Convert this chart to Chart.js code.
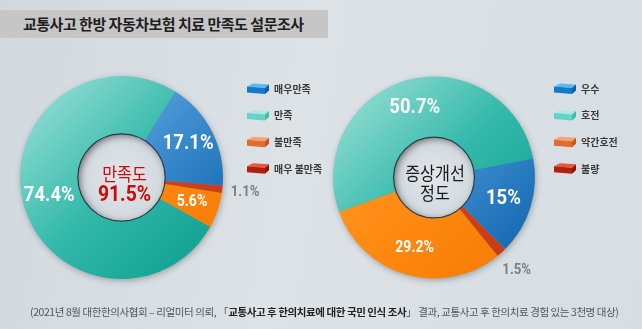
<!DOCTYPE html>
<html><head><meta charset="utf-8">
<script src="https://cdn.jsdelivr.net/npm/chart.js@4.4.1/dist/chart.umd.min.js"></script>
<style>
html,body{margin:0;padding:0;}
body{width:642px;height:329px;overflow:hidden;position:relative;background:linear-gradient(100deg,#d1d9df 0%,#dce2e6 45%,#d7dee3 100%);font-family:'Noto Sans CJK KR',sans-serif;}
#title{position:absolute;left:0;top:10px;width:328px;height:28px;background:#c6c6c6;}
#title span{position:absolute;left:23px;top:3px;font-size:15px;font-weight:700;color:#1e1e1e;letter-spacing:-0.5px;line-height:21px;white-space:nowrap}
canvas{position:absolute;left:0;top:0;}
#foot{position:absolute;left:30px;top:305px;font-size:10.5px;line-height:14px;color:#555;white-space:nowrap;letter-spacing:-0.42px}
#foot b{color:#222}
</style></head>
<body>
<div id="title"><span>교통사고 한방 자동차보험 치료 만족도 설문조사</span></div>
<canvas id="c1" width="642" height="329" style="width:642px;height:329px"></canvas>
<canvas id="c2" width="642" height="329" style="width:642px;height:329px"></canvas>
<div id="foot">(2021년 8월 대한한의사협회 – 리얼미터 의뢰, 「<b>교통사고 후 한의치료에 대한 국민 인식 조사</b>」 결과, 교통사고 후 한의치료 경험 있는 3천명 대상)</div>
<script>
// ---- data ----
const satisfactionCategories = ['매우만족', '만족', '불만족', '매우 불만족'];
const satisfactionValues = [17.1, 74.4, 5.6, 1.1];
const satisfactionLabels = ['17.1%', '74.4%', '5.6%', '1.1%'];
const satisfactionSliceOrder = [0, 3, 2, 1];
const satisfactionCenter = ['만족도', '91.5%'];

const improvementCategories = ['우수', '호전', '약간호전', '불량'];
const improvementValues = [15, 50.7, 29.2, 1.5];
const improvementLabels = ['15%', '50.7%', '29.2%', '1.5%'];
const improvementSliceOrder = [1, 0, 3, 2];
const improvementCenter = ['증상개선', '정도'];

// ---- styles ----
const SLICE_COLORS = [
  ['#86bbe3', '#3f8fd0', '#0f63ad'], // blue
  ['#8fdbd1', '#33b9aa', '#0c9f8f'], // teal
  ['#ff9e2c', '#ff8a12', '#f57b05'], // orange
  ['#e0502a', '#d8431b', '#c9380f']  // red
];
const LEGEND_COLORS = [
  ['#5cb8ee', '#1479c9', '#0d5ea3'],
  ['#a8ebe4', '#66d2c8', '#49b8ad'],
  ['#f7a276', '#e56a2e', '#c9561f'],
  ['#ea5636', '#b0200c', '#8d1505']
];
const LABEL_SIZE = [21, 21, 16, 15];
const LABEL_OUTSIDE = [false, false, false, true];

function sliceColor(order) {
  return (c) => {
    const ci = order[c.dataIndex];
    const cols = SLICE_COLORS[ci];
    const ca = c.chart.chartArea;
    if (!ca) return cols[1];
    const g = c.chart.ctx.createLinearGradient(ca.left, ca.top, ca.right, ca.bottom);
    g.addColorStop(0.1, cols[0]);
    g.addColorStop(0.5, cols[1]);
    g.addColorStop(0.95, cols[2]);
    return g;
  };
}

function drawBox(ctx, x, y, cols) {
  const w = 22;
  ctx.beginPath();
  ctx.moveTo(x, y + 3); ctx.lineTo(x + 6, y); ctx.lineTo(x + w, y + 1); ctx.lineTo(x + w - 4, y + 4.5); ctx.closePath();
  ctx.fillStyle = cols[0]; ctx.fill();
  ctx.beginPath();
  ctx.moveTo(x, y + 3); ctx.lineTo(x + w - 4, y + 4.5); ctx.lineTo(x + w - 4, y + 10.5); ctx.lineTo(x, y + 9); ctx.closePath();
  ctx.fillStyle = cols[1]; ctx.fill();
  ctx.beginPath();
  ctx.moveTo(x + w - 4, y + 4.5); ctx.lineTo(x + w, y + 1); ctx.lineTo(x + w, y + 7); ctx.lineTo(x + w - 4, y + 10.5); ctx.closePath();
  ctx.fillStyle = cols[2]; ctx.fill();
}

const ringPlugin = {
  id: 'ring',
  beforeDatasetsDraw(chart) {
    const ctx = chart.ctx;
    const a = chart.getDatasetMeta(0).data[0];
    const { x, y, outerRadius } = a.getProps(['x', 'y', 'outerRadius'], true);
    ctx.save();
    ctx.shadowColor = 'rgba(0,0,0,0.35)';
    ctx.shadowBlur = 7; ctx.shadowOffsetY = 2; ctx.shadowOffsetX = 1;
    ctx.beginPath(); ctx.arc(x, y, outerRadius - 1, 0, Math.PI * 2);
    ctx.fillStyle = '#3aa'; ctx.fill();
    ctx.restore();
  },
  afterDatasetsDraw(chart, args, o) {
    const ctx = chart.ctx;
    const meta = chart.getDatasetMeta(0);
    const a0 = meta.data[0];
    const { x, y, outerRadius, innerRadius } = a0.getProps(['x', 'y', 'outerRadius', 'innerRadius'], true);
    // hole
    ctx.save();
    const hg = ctx.createRadialGradient(x, y, 2, x, y, innerRadius);
    hg.addColorStop(0, '#dfe5e9'); hg.addColorStop(1, '#d2d9de');
    ctx.beginPath(); ctx.arc(x, y, innerRadius, 0, Math.PI * 2); ctx.fillStyle = hg; ctx.fill();
    ctx.clip();
    ctx.beginPath(); ctx.arc(x, y, innerRadius + 7, 0, Math.PI * 2);
    ctx.lineWidth = 14; ctx.strokeStyle = '#000';
    ctx.shadowColor = 'rgba(0,0,0,0.5)'; ctx.shadowBlur = 7; ctx.shadowOffsetX = 2; ctx.shadowOffsetY = 2;
    ctx.stroke();
    ctx.restore();
    ctx.save();
    ctx.beginPath(); ctx.arc(x, y, innerRadius, 0, Math.PI * 2);
    ctx.lineWidth = 1.2; ctx.strokeStyle = 'rgba(20,30,40,0.7)'; ctx.stroke();
    ctx.restore();

    // slice labels
    meta.data.forEach((arc, i) => {
      const ci = o.order[i];
      const p = arc.getProps(['startAngle', 'endAngle'], true);
      const mid = (p.startAngle + p.endAngle) / 2;
      const out = LABEL_OUTSIDE[ci];
      const r = out ? outerRadius + 23 : (innerRadius + outerRadius) / 2 + 2;
      const px = x + Math.cos(mid) * r, py = y + Math.sin(mid) * r;
      ctx.save();
      ctx.translate(px, py);
      ctx.scale(0.88, 1);
      ctx.font = `bold ${LABEL_SIZE[ci]}px Roboto, sans-serif`;
      ctx.textAlign = 'center'; ctx.textBaseline = 'middle';
      ctx.fillStyle = out ? '#7b7f82' : '#ffffff';
      ctx.fillText(o.labels[ci], 0, 0);
      ctx.restore();
    });

    // center text
    ctx.save();
    ctx.textAlign = 'center'; ctx.textBaseline = 'middle';
    ctx.fillStyle = o.centerColor;
    ctx.font = `${o.centerSize1}px "Noto Sans CJK KR"`;
    ctx.translate(x + o.centerDx, y);
    ctx.save(); ctx.scale(0.9, 1);
    ctx.fillText(o.center[0], 0, o.centerY[0]);
    ctx.restore();
    ctx.scale(o.centerBold ? 0.88 : 0.9, 1);
    ctx.font = o.centerBold ? `bold 22px Roboto, sans-serif` : `${o.centerSize1}px "Noto Sans CJK KR"`;
    ctx.fillText(o.center[1], 0, o.centerY[1]);
    ctx.restore();

    // legend
    ctx.save();
    ctx.textBaseline = 'middle'; ctx.textAlign = 'left';
    ctx.font = 'bold 10px "Noto Sans CJK KR"';
    o.categories.forEach((c, i) => {
      const ly = o.legendY + i * o.legendStep;
      drawBox(ctx, o.legendX, ly - 5.5, LEGEND_COLORS[i]);
      ctx.fillStyle = '#3a3a3a';
      ctx.fillText(c, o.legendX + 27, ly);
    });
    ctx.restore();
  }
};

function makeChart(id, cats, vals, labels, order, cfg) {
  return new Chart(document.getElementById(id), {
    type: 'doughnut',
    data: {
      labels: order.map(i => cats[i]),
      datasets: [{
        data: order.map(i => vals[i]),
        backgroundColor: sliceColor(order),
        borderWidth: 0
      }]
    },
    options: {
      responsive: false,
      animation: false,
      events: [],
      rotation: cfg.rotation,
      cutout: cfg.cutout,
      layout: { padding: cfg.padding },
      plugins: {
        legend: { display: false },
        tooltip: { enabled: false },
        ring: Object.assign({ categories: cats, labels: labels, order: order }, cfg.ring)
      }
    },
    plugins: [ringPlugin]
  });
}

makeChart('c1', satisfactionCategories, satisfactionValues, satisfactionLabels, satisfactionSliceOrder, {
  rotation: 32,
  cutout: '43%',
  padding: { left: 20, right: 419, top: 76, bottom: 50 },
  ring: {
    center: satisfactionCenter, centerColor: '#cc0a0a', centerSize1: 18, centerBold: true,
    centerY: [-3, 18], centerDx: 3,
    legendX: 247, legendY: 89, legendStep: 26.6
  }
});
makeChart('c2', improvementCategories, improvementValues, improvementLabels, improvementSliceOrder, {
  rotation: 250,
  cutout: '40%',
  padding: { left: 333, right: 107, top: 76, bottom: 50 },
  ring: {
    center: improvementCenter, centerColor: '#1a1a1a', centerSize1: 18, centerBold: false,
    centerY: [-4, 16], centerDx: 1,
    legendX: 554, legendY: 89, legendStep: 26.6
  }
});
</script>
</body></html>
